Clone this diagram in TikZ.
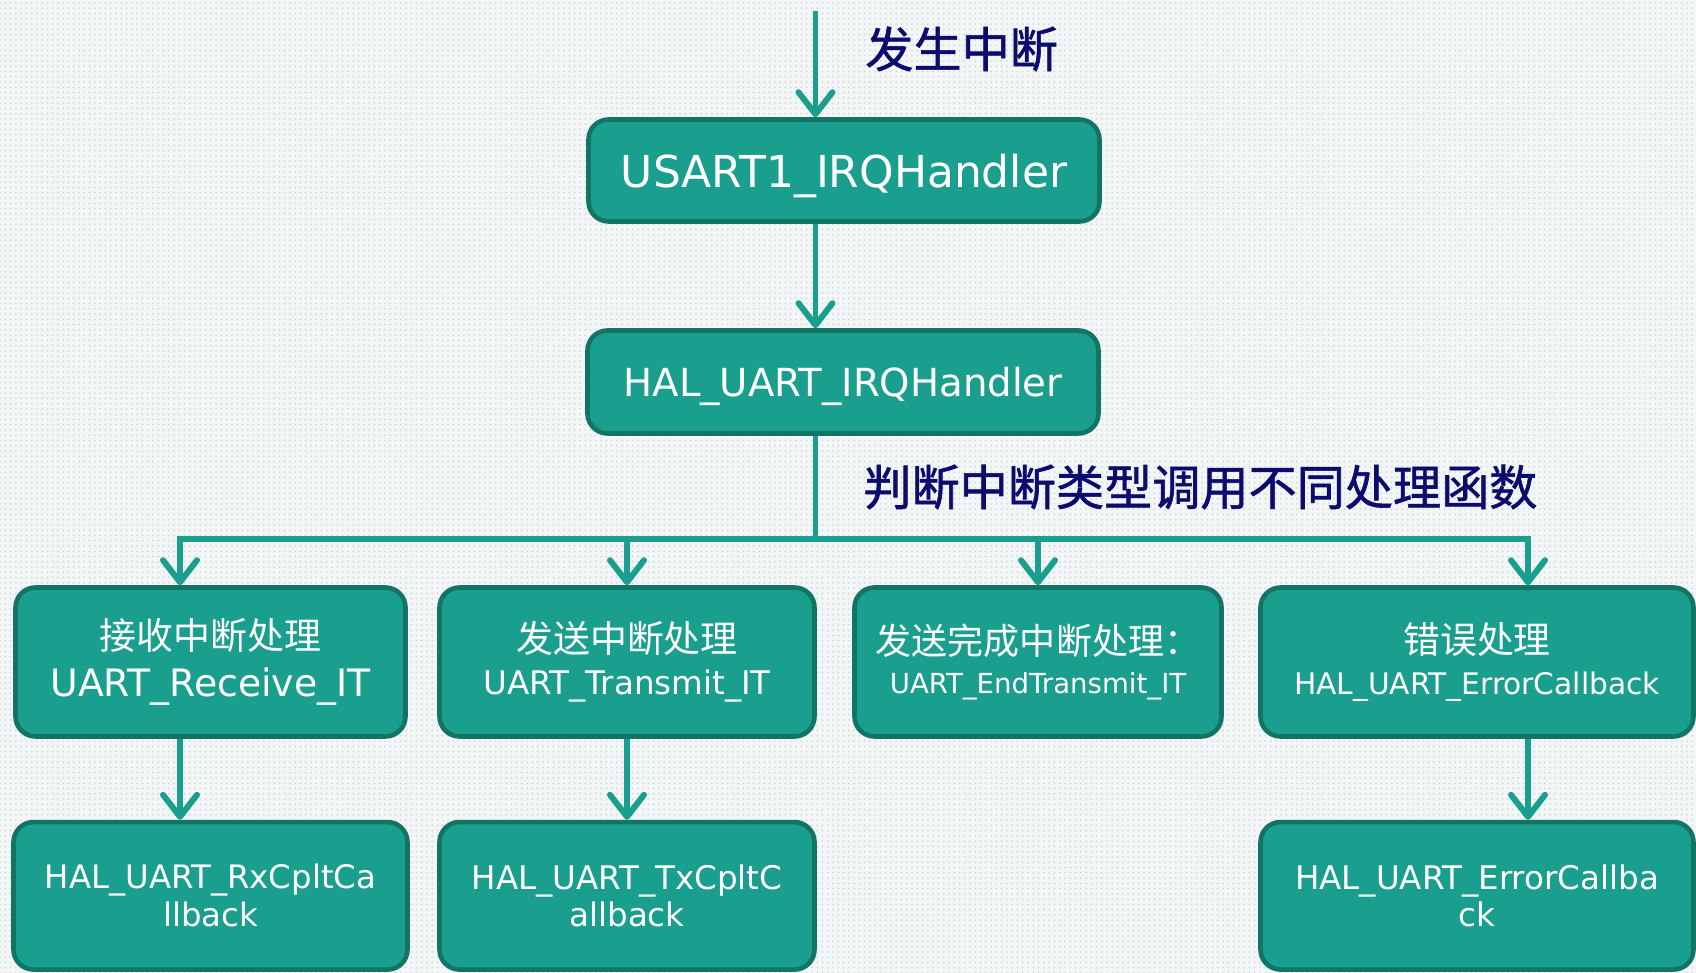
\documentclass[tikz,border=0pt]{standalone}
\usepackage{fontspec}
\setmainfont{DejaVu Sans}
\newfontfamily\cjk{Noto Sans CJK SC}
\newfontfamily\cjkhead[FakeBold=1.2]{Noto Sans CJK SC}
\usepackage{xcolor}
\usepackage{tikz}
\usetikzlibrary{
  arrows.meta,
  positioning,
  patterns
}
\definecolor{uartTeal}{RGB}{26,158,142}
\definecolor{uartEdge}{RGB}{18,116,101}
\definecolor{uartNavy}{RGB}{12,12,110}
\definecolor{uartPaper}{RGB}{243,246,246}

\begin{document}
\begin{tikzpicture}[
  %% Rounded teal function block
  func/.style={
    rounded corners=0.4cm,
    draw=uartEdge,
    fill=uartTeal,
    line width=2.6pt,
    text=white,
    align=center,
    inner sep=0pt
  },
  %% Navy caption beside the trunk
  note/.style={
    anchor=west,
    inner sep=0pt,
    text=uartNavy,
    font=\fontsize{27.4}{30}\selectfont\cjkhead
  },
  arr/.style= {-{Straight Barb[length=0.44cm, width=0.68cm, round]}, line width=3.4pt, uartTeal},
  wire/.style={line width=3.4pt, uartTeal}
]

%% ---- Canvas ----
\useasboundingbox (0,0) rectangle (33.92,19.46);
\fill[uartPaper] (0,0) rectangle (33.92,19.46);
\fill[pattern=dots, pattern color=black!18] (0,0) rectangle (33.92,19.46);

%% ---- Handler chain ----
\node[func, minimum width=10.22cm, minimum height=2.04cm, text depth=0pt,
      font=\fontsize{25}{29}\selectfont] (usart) at (16.88,16.05)
  {USART1\_IRQHandler};

\node[func, minimum width=10.22cm, minimum height=2.06cm, text depth=0pt,
      font=\fontsize{22}{26}\selectfont] (halirq) at (16.86,11.82)
  {HAL\_UART\_IRQHandler};

%% ---- Dispatch row ----
\node[func, minimum width=7.8cm, minimum height=2.98cm,
      font=\fontsize{21.5}{26.5}\selectfont] (recv) at (4.21,6.22)
  {{\cjk\fontsize{21}{26}\selectfont 接收中断处理}\\UART\_Receive\_IT};

\node[func, minimum width=7.5cm, minimum height=2.98cm,
      font=\fontsize{18.5}{24}\selectfont] (xmit) at (12.54,6.22)
  {{\cjk\fontsize{21}{24}\selectfont 发送中断处理}\\UART\_Transmit\_IT};

\node[func, minimum width=7.34cm, minimum height=2.98cm,
      font=\fontsize{15.7}{22}\selectfont] (endx) at (20.76,6.22)
  {{\cjk\fontsize{20.5}{22}\selectfont 发送完成中断处理：}\\UART\_EndTransmit\_IT};

\node[func, minimum width=8.66cm, minimum height=2.98cm,
      font=\fontsize{16.9}{23}\selectfont] (errh) at (29.54,6.22)
  {{\cjk\fontsize{21}{23}\selectfont 错误处理}\\HAL\_UART\_ErrorCallback};

%% ---- Callbacks ----
\node[func, minimum width=7.88cm, minimum height=2.95cm,
      font=\fontsize{18.4}{21.5}\selectfont, below=1.62cm of recv] (rxcb)
  {HAL\_UART\_RxCpltCa\\llback};

\node[func, minimum width=7.5cm, minimum height=2.95cm,
      font=\fontsize{18.5}{21.5}\selectfont, below=1.62cm of xmit] (txcb)
  {HAL\_UART\_TxCpltC\\allback};

\node[func, minimum width=8.66cm, minimum height=2.95cm,
      font=\fontsize{18.5}{21.5}\selectfont, below=1.62cm of errh] (errcb)
  {HAL\_UART\_ErrorCallba\\ck};

%% ---- Captions ----
\node[note] (irqnote)  at (17.3,18.48) {发生中断};
\node[note] (dispnote) at (17.26,9.72) {判断中断类型调用不同处理函数};

%% ---- Trunk and bus ----
\coordinate (entry) at (16.31,19.24);
\coordinate (busL)  at (3.6,8.68);
\coordinate (busR)  at (30.56,8.68);

\draw[arr]  (entry) -- (entry |- usart.north);
\draw[arr]  (usart.south -| entry) -- (halirq.north -| entry);
\draw[wire] (halirq.south -| entry) -- (entry |- busL);
\draw[wire, line cap=rect] (busL) -- (busR);

%% ---- Bus drops ----
\draw[arr] (busL) -- (recv.north -| busL);
\draw[arr] (xmit.north |- busL) -- (xmit.north);
\draw[arr] (endx.north |- busL) -- (endx.north);
\draw[arr] (busR) -- (errh.north -| busR);

%% ---- Callback arrows ----
\draw[arr] (recv.south -| busL) -- (rxcb.north -| busL);
\draw[arr] (xmit.south) -- (txcb.north);
\draw[arr] (errh.south -| busR) -- (errcb.north -| busR);

\end{tikzpicture}
\end{document}
